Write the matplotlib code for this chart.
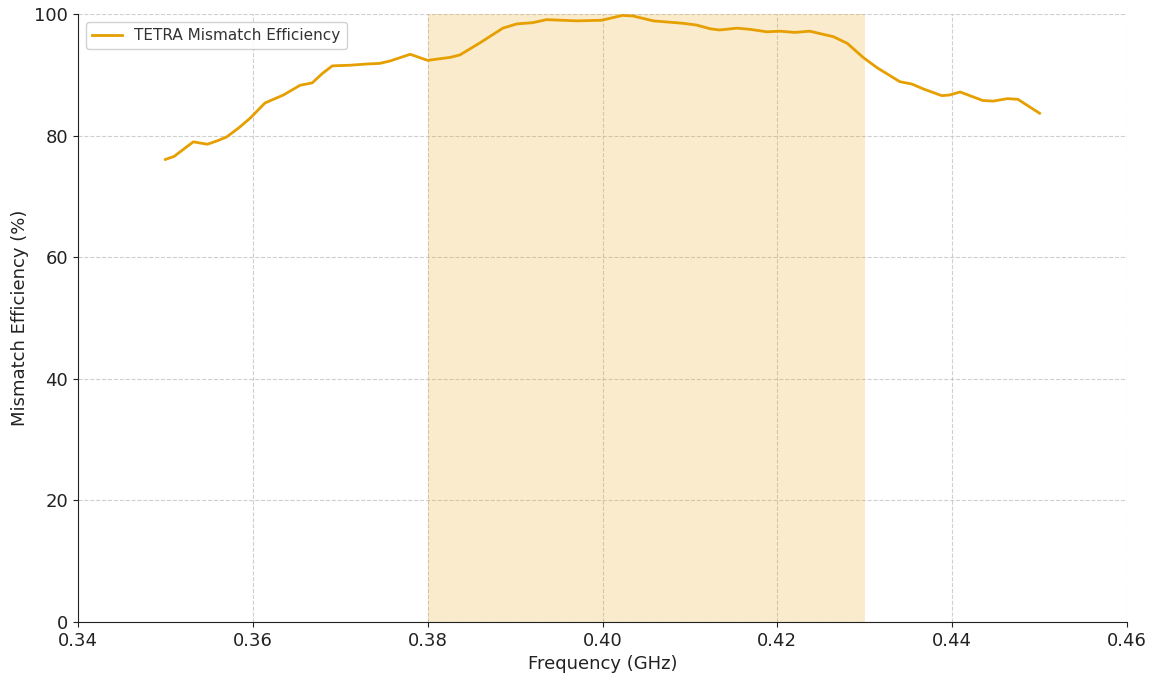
import matplotlib
matplotlib.use("Agg")
import matplotlib.pyplot as plt

# Frequency points (GHz) and efficiency (%)
freq_ghz = [0.3500, 0.3510, 0.3520, 0.3532, 0.3548, 0.3560, 0.3570, 0.3584, 0.3597,
            0.3614, 0.3635, 0.3654, 0.3668, 0.3680, 0.3691, 0.3711, 0.3730, 0.3745,
            0.3757, 0.3780, 0.3800, 0.3826, 0.3837, 0.3860, 0.3886, 0.3902, 0.3920,
            0.3936, 0.3971, 0.3999, 0.4023, 0.4035, 0.4058, 0.4092, 0.4108, 0.4123,
            0.4134, 0.4154, 0.4169, 0.4188, 0.4203, 0.4220, 0.4237, 0.4252, 0.4264,
            0.4280, 0.4298, 0.4314, 0.4340, 0.4354, 0.4367, 0.4388, 0.4397, 0.4409,
            0.4435, 0.4447, 0.4463, 0.4475, 0.4500]
efficiency = [76.1, 76.6, 77.7, 79.0, 78.6, 79.2, 79.8, 81.3, 82.9,
              85.4, 86.7, 88.3, 88.7, 90.3, 91.5, 91.6, 91.8, 91.9,
              92.3, 93.4, 92.4, 92.9, 93.3, 95.3, 97.7, 98.4, 98.6,
              99.1, 98.9, 99.0, 99.8, 99.7, 98.9, 98.5, 98.2, 97.6,
              97.4, 97.7, 97.5, 97.1, 97.2, 97.0, 97.2, 96.7, 96.3,
              95.2, 92.9, 91.2, 88.9, 88.5, 87.7, 86.6, 86.7, 87.2,
              85.8, 85.7, 86.1, 86.0, 83.7]

band = (0.38, 0.43)
xticks = [0.34, 0.36, 0.38, 0.40, 0.42, 0.44, 0.46]
yticks = [0, 20, 40, 60, 80, 100]

line_color = "#E69F00"

fig = plt.figure(figsize=(11.55, 6.75), dpi=100)
ax = fig.add_axes([0.0675, 0.0785, 0.9083, 0.9005])

ax.axvspan(band[0], band[1], color=line_color, alpha=0.2, lw=0)
ax.plot(freq_ghz, efficiency, color=line_color, linewidth=2,
        solid_joinstyle="round", label="TETRA Mismatch Efficiency")

ax.set_xlim(0.34, 0.46)
ax.set_ylim(0, 100)
ax.set_xticks(xticks)
ax.set_xticklabels([f"{t:.2f}" for t in xticks])
ax.set_yticks(yticks)
ax.tick_params(axis="both", labelsize=13, colors="#222222")

ax.set_xlabel("Frequency (GHz)", fontsize=13, color="#222222")
ax.set_ylabel("Mismatch Efficiency (%)", fontsize=13, color="#222222")

ax.grid(True, linestyle="--", color="#c4c4c4", linewidth=0.8, alpha=0.8)
ax.set_axisbelow(True)
ax.spines["top"].set_visible(False)
ax.spines["right"].set_visible(False)
ax.spines["left"].set_color("#222222")
ax.spines["bottom"].set_color("#222222")

leg = ax.legend(loc="upper left", fontsize=11, framealpha=0.9)
for t in leg.get_texts():
    t.set_color("#333333")

fig.savefig("out.png", dpi=100)
